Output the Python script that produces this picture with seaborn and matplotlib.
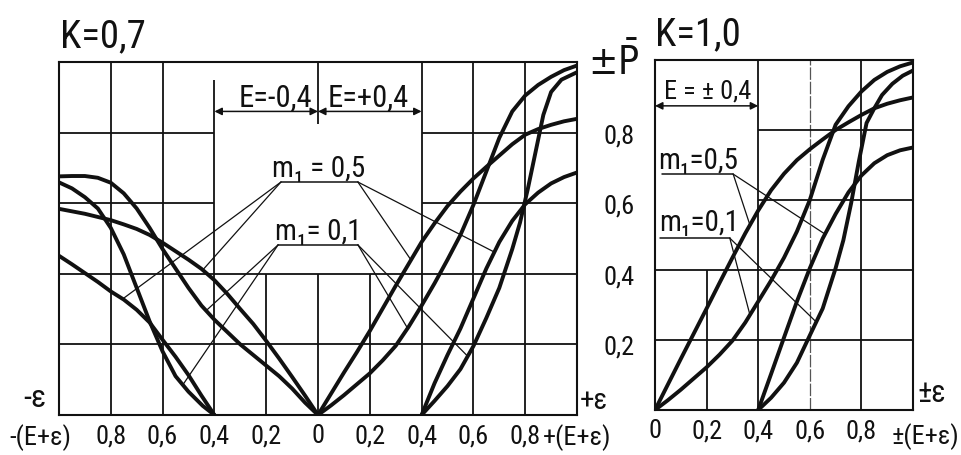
import numpy as np
import pandas as pd
import matplotlib
matplotlib.use("Agg")
import matplotlib.pyplot as plt
import matplotlib.font_manager as fm
import seaborn as sns

# ---------------- data ----------------
# K = 0.7 panel, horizontal axis: -(E+eps) ... +(E+eps)
k07_m01_e0_neg_v = [0, -0.05, -0.1, -0.15, -0.2, -0.25, -0.3, -0.35, -0.4, -0.45, -0.5,
                    -0.55, -0.6, -0.65, -0.7, -0.75, -0.8, -0.85, -0.9, -0.95, -1.0]
k07_m01_e0_neg_p = [0, 0.035, 0.075, 0.11, 0.14, 0.17, 0.2, 0.235, 0.27, 0.31, 0.36,
                    0.415, 0.47, 0.53, 0.585, 0.628, 0.658, 0.672, 0.677, 0.677, 0.676]
k07_m05_e0_neg_v = k07_m01_e0_neg_v
k07_m05_e0_neg_p = [0, 0.055, 0.108, 0.16, 0.21, 0.258, 0.30, 0.343, 0.382, 0.414, 0.44,
                    0.464, 0.488, 0.51, 0.527, 0.54, 0.552, 0.561, 0.57, 0.577, 0.584]
k07_m01_e4_neg_v = [-0.4, -0.445, -0.5, -0.55, -0.6, -0.65, -0.7, -0.75, -0.8, -0.85, -0.9, -0.95, -1.0]
k07_m01_e4_neg_p = [0, 0.026, 0.066, 0.11, 0.18, 0.265, 0.36, 0.455, 0.53, 0.585, 0.617, 0.642, 0.659]
k07_m05_e4_neg_v = [-0.4, -0.45, -0.5, -0.55, -0.6, -0.65, -0.7, -0.75, -0.8, -0.85, -0.9, -0.95, -1.0]
k07_m05_e4_neg_p = [0, 0.055, 0.113, 0.165, 0.213, 0.262, 0.298, 0.327, 0.35, 0.377, 0.402, 0.427, 0.451]

k07_m01_e0_pos_v = [0, 0.05, 0.1, 0.15, 0.2, 0.25, 0.3, 0.35, 0.4, 0.45, 0.5,
                    0.55, 0.6, 0.65, 0.7, 0.75, 0.8, 0.85, 0.9, 0.95, 1.0]
k07_m01_e0_pos_p = [0, 0.027, 0.056, 0.087, 0.118, 0.155, 0.196, 0.25, 0.31, 0.373, 0.44,
                    0.51, 0.595, 0.69, 0.785, 0.86, 0.905, 0.935, 0.958, 0.977, 0.99]
k07_m05_e0_pos_v = k07_m01_e0_pos_v
k07_m05_e0_pos_p = [0, 0.06, 0.12, 0.178, 0.238, 0.302, 0.366, 0.428, 0.49, 0.543, 0.592,
                    0.633, 0.67, 0.703, 0.735, 0.767, 0.794, 0.81, 0.822, 0.832, 0.839]
k07_m05_e4_pos_v = [0.4, 0.45, 0.5, 0.55, 0.6, 0.65, 0.7, 0.75, 0.8, 0.85, 0.9, 0.95, 1.0]
k07_m05_e4_pos_p = [0, 0.09, 0.17, 0.245, 0.33, 0.415, 0.49, 0.55, 0.597, 0.63, 0.656, 0.674, 0.687]
k07_m01_e4_pos_v = [0.4, 0.45, 0.5, 0.55, 0.6, 0.65, 0.7, 0.75, 0.78, 0.81, 0.84, 0.87, 0.9, 0.94, 1.0]
k07_m01_e4_pos_p = [0, 0.04, 0.082, 0.13, 0.195, 0.275, 0.36, 0.47, 0.545, 0.64, 0.745, 0.85, 0.915, 0.95, 0.971]

# K = 1.0 panel, horizontal axis: +-(E+eps)
k10_m01_e0_v = [0, 0.05, 0.1, 0.15, 0.2, 0.25, 0.3, 0.35, 0.4, 0.45, 0.5,
                0.55, 0.6, 0.65, 0.7, 0.75, 0.8, 0.85, 0.9, 0.95, 1.0]
k10_m01_e0_p = [0, 0.028, 0.058, 0.09, 0.122, 0.158, 0.198, 0.25, 0.31, 0.37, 0.435,
                0.51, 0.6, 0.715, 0.815, 0.868, 0.91, 0.943, 0.966, 0.982, 0.993]
k10_m05_e0_v = k10_m01_e0_v
k10_m05_e0_p = [0, 0.073, 0.146, 0.218, 0.29, 0.363, 0.435, 0.505, 0.57, 0.628, 0.675,
                0.714, 0.745, 0.773, 0.80, 0.822, 0.843, 0.862, 0.875, 0.885, 0.893]
k10_m01_e4_v = [0.4, 0.45, 0.5, 0.55, 0.6, 0.65, 0.7, 0.73, 0.76, 0.79, 0.82, 0.85, 0.88, 0.92, 0.96, 1.0]
k10_m01_e4_p = [0, 0.035, 0.078, 0.135, 0.213, 0.29, 0.405, 0.485, 0.59, 0.71, 0.82, 0.862, 0.9, 0.932, 0.955, 0.97]
k10_m05_e4_v = [0.4, 0.45, 0.5, 0.55, 0.6, 0.65, 0.7, 0.75, 0.8, 0.85, 0.9, 0.95, 1.0]
k10_m05_e4_p = [0, 0.103, 0.207, 0.31, 0.405, 0.49, 0.56, 0.622, 0.67, 0.705, 0.728, 0.742, 0.75]

k07_xticks = [-0.8, -0.6, -0.4, -0.2, 0, 0.2, 0.4, 0.6, 0.8]
k07_xlabels = ['0,8', '0,6', '0,4', '0,2', '0', '0,2', '0,4', '0,6', '0,8']
k10_xticks = [0, 0.2, 0.4, 0.6, 0.8]
k10_xlabels = ['0', '0,2', '0,4', '0,6', '0,8']
p_ticks = [0.2, 0.4, 0.6, 0.8]
p_labels = ['0,2', '0,4', '0,6', '0,8']

# ---------------- style ----------------
sns.set_theme(style="white")
avail = {f.name for f in fm.fontManager.ttflist}
FONT = 'DejaVu Sans'
for cand in ['Liberation Sans Narrow', 'Roboto Condensed', 'Open Sans Condensed']:
    if cand in avail:
        FONT = cand
        break
plt.rcParams['font.family'] = [FONT, 'DejaVu Sans']
plt.rcParams['font.stretch'] = 'condensed'
plt.rcParams['mathtext.fontset'] = 'dejavusans'
INK = '#111111'

fig = plt.figure(figsize=(9.62, 4.56), dpi=100)
fig.patch.set_facecolor('white')
ax1 = fig.add_axes([59 / 962, 40 / 456, 518 / 962, 353 / 456])
ax2 = fig.add_axes([655 / 962, 45 / 456, 258 / 962, 350 / 456])


def frame(ax, xlim):
    ax.set_xlim(*xlim)
    ax.set_ylim(0, 1)
    ax.set_facecolor('white')
    for s in ax.spines.values():
        s.set_visible(True)
        s.set_color(INK)
        s.set_linewidth(1.5)
    ax.grid(False)


frame(ax1, (-1, 1))
frame(ax2, (0, 1))

GW = 1.3
# grid of K=0.7 panel (with the blank zone holding the labels)
ax1.vlines([-0.8, -0.6, 0.4, 0.6, 0.8], 0, 1, color=INK, lw=GW)
ax1.vlines([-0.4], 0, 0.95, color=INK, lw=GW)
ax1.vlines([-0.2, 0, 0.2], 0, 0.4, color=INK, lw=GW)
ax1.vlines([0], 0.825, 1, color=INK, lw=GW)
ax1.hlines([0.2, 0.4], -1, 1, color=INK, lw=GW)
ax1.hlines([0.6, 0.8], -1, -0.4, color=INK, lw=GW)
ax1.hlines([0.6, 0.8], 0.4, 1, color=INK, lw=GW)
# grid of K=1.0 panel
ax2.vlines([0.4, 0.8], 0, 1, color=INK, lw=GW)
ax2.vlines([0.6], 0, 1, color='#555555', lw=0.9, linestyles=(0, (10, 1.5)))
ax2.vlines([0.2], 0, 0.4, color=INK, lw=GW)
ax2.hlines([0.2, 0.4], 0, 1, color=INK, lw=GW)
ax2.hlines([0.6, 0.8], 0.4, 1, color=INK, lw=GW)

# ---------------- curves ----------------
curves07 = {
    'm01_e0_neg': (k07_m01_e0_neg_v, k07_m01_e0_neg_p),
    'm05_e0_neg': (k07_m05_e0_neg_v, k07_m05_e0_neg_p),
    'm01_e4_neg': (k07_m01_e4_neg_v, k07_m01_e4_neg_p),
    'm05_e4_neg': (k07_m05_e4_neg_v, k07_m05_e4_neg_p),
    'm01_e0_pos': (k07_m01_e0_pos_v, k07_m01_e0_pos_p),
    'm05_e0_pos': (k07_m05_e0_pos_v, k07_m05_e0_pos_p),
    'm05_e4_pos': (k07_m05_e4_pos_v, k07_m05_e4_pos_p),
    'm01_e4_pos': (k07_m01_e4_pos_v, k07_m01_e4_pos_p),
}
curves10 = {
    'm01_e0': (k10_m01_e0_v, k10_m01_e0_p),
    'm05_e0': (k10_m05_e0_v, k10_m05_e0_p),
    'm01_e4': (k10_m01_e4_v, k10_m01_e4_p),
    'm05_e4': (k10_m05_e4_v, k10_m05_e4_p),
}


def to_df(curves):
    rows = []
    for name, (v, p) in curves.items():
        rows.append(pd.DataFrame({'curve': name, 'v': v, 'p': p}))
    return pd.concat(rows, ignore_index=True)


for ax, cdict in ((ax1, curves07), (ax2, curves10)):
    sns.lineplot(data=to_df(cdict), x='v', y='p', units='curve', estimator=None,
                 sort=False, color=INK, linewidth=2.8, legend=False, ax=ax,
                 solid_capstyle='round', solid_joinstyle='round')
    ax.set_xlabel('')
    ax.set_ylabel('')


def on_curve(cdict, name, x):
    v, p = cdict[name]
    order = np.argsort(v)
    return float(np.interp(x, np.asarray(v)[order], np.asarray(p)[order]))


LW = 0.9
# leaders & shelves, K = 0.7
ax1.plot([-0.143, 0.154], [0.66, 0.66], color=INK, lw=1.1)
ax1.plot([-0.154, 0.154], [0.482, 0.482], color=INK, lw=1.1)
for start, name, x in [((-0.143, 0.66), 'm05_e4_neg', -0.754), ((-0.143, 0.66), 'm05_e0_neg', -0.445),
                       ((0.154, 0.66), 'm05_e0_pos', 0.359), ((0.154, 0.66), 'm05_e4_pos', 0.681),
                       ((-0.154, 0.482), 'm01_e0_neg', -0.432), ((-0.154, 0.482), 'm01_e4_neg', -0.522),
                       ((0.154, 0.482), 'm01_e0_pos', 0.346), ((0.154, 0.482), 'm01_e4_pos', 0.578)]:
    ax1.plot([start[0], x], [start[1], on_curve(curves07, name, x)], color=INK, lw=LW)

# leaders & shelves, K = 1.0
ax2.plot([0.026, 0.303], [0.674, 0.674], color=INK, lw=1.1)
ax2.plot([0.02, 0.29], [0.491, 0.491], color=INK, lw=1.1)
for start, name, x in [((0.303, 0.674), 'm05_e0', 0.368), ((0.303, 0.674), 'm05_e4', 0.659),
                       ((0.29, 0.491), 'm01_e0', 0.368), ((0.29, 0.491), 'm01_e4', 0.625)]:
    ax2.plot([start[0], x], [start[1], on_curve(curves10, name, x)], color=INK, lw=LW)

# dimension arrows
arr = dict(arrowstyle='<|-|>', color=INK, lw=1.1, mutation_scale=11, shrinkA=0, shrinkB=0)
ax1.annotate('', xy=(-0.4, 0.86), xytext=(0, 0.86), arrowprops=arr)
ax1.annotate('', xy=(0, 0.86), xytext=(0.4, 0.86), arrowprops=arr)
ax2.annotate('', xy=(0, 0.869), xytext=(0.4, 0.869), arrowprops=arr)

# ---------------- ticks ----------------
ax1.set_xticks(k07_xticks, k07_xlabels)
ax1.tick_params(axis='x', length=0, pad=6, labelsize=19, colors=INK)
ax1.yaxis.tick_right()
ax1.set_yticks(p_ticks, p_labels)
ax1.tick_params(axis='y', length=0, pad=19, labelsize=19, colors=INK)
ax2.set_xticks(k10_xticks, k10_xlabels)
ax2.tick_params(axis='x', length=0, pad=6, labelsize=19, colors=INK)
ax2.set_yticks([])

# ---------------- texts ----------------
T = dict(color=INK, clip_on=False)
ax1.text(-0.996, 1.045, 'K=0,7', fontsize=28, ha='left', va='baseline', **T)
ax1.text(-0.166, 0.877, 'E=-0,4', fontsize=22, ha='center', va='baseline', **T)
ax1.text(0.193, 0.877, 'E=+0,4', fontsize=22, ha='center', va='baseline', **T)
ax1.text(0.004, 0.676, 'm₁ = 0,5', fontsize=21, ha='center', va='baseline', **T)
ax1.text(0.0, 0.498, 'm₁= 0,1', fontsize=21, ha='center', va='baseline', **T)
ax1.text(-1.05, 0.025, '-ε', fontsize=23, ha='right', va='baseline', **T)
ax1.text(-1.07, -0.06, '-(E+ε)', fontsize=19, ha='center', va='center', **T)
ax1.text(1.012, 0.02, '+ε', fontsize=21, ha='left', va='baseline', **T)
ax1.text(1.0, -0.06, '+(E+ε)', fontsize=19, ha='center', va='center', **T)
ax1.text(1.14, 1.0, r'$\pm\bar{\mathrm{P}}$', fontsize=28, ha='center', va='center', **T)

ax2.text(0.035, 0.893, 'E = ± 0,4', fontsize=19, ha='left', va='baseline', **T)
ax2.text(0.0, 1.045, 'K=1,0', fontsize=28, ha='left', va='baseline', **T)
ax2.text(0.167, 0.692, 'm₁=0,5', fontsize=21, ha='center', va='baseline', **T)
ax2.text(0.17, 0.513, 'm₁=0,1', fontsize=21, ha='center', va='baseline', **T)
ax2.text(1.016, 0.025, '±ε', fontsize=22, ha='left', va='baseline', **T)
ax2.text(1.05, -0.074, '±(E+ε)', fontsize=19, ha='center', va='center', **T)

fig.savefig('out.png', dpi=100, facecolor='white')
